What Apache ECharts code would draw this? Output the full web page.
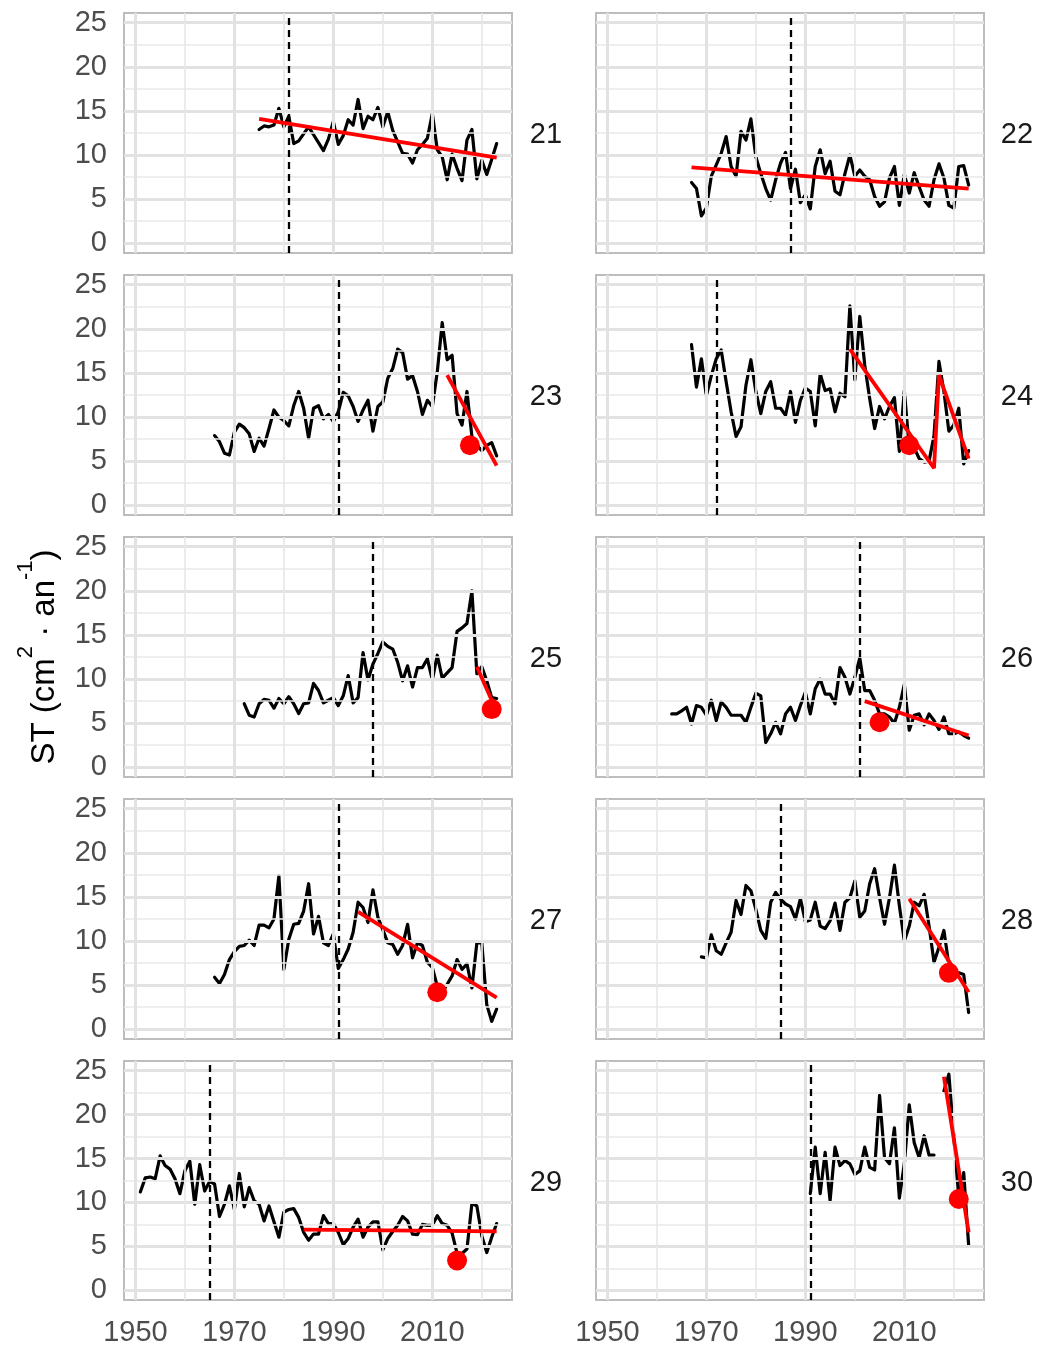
<!DOCTYPE html>
<html><head><meta charset="utf-8">
<script src="https://cdn.jsdelivr.net/npm/echarts@6/dist/echarts.min.js"></script>
<style>html,body{margin:0;padding:0;background:#fff}#c{width:1039px;height:1347px}</style>
</head><body><div id="c"></div>
<script>
// ---------- DATA ----------
const panelIds = [21, 22, 23, 24, 25, 26, 27, 28, 29, 30];
const startYears = [1975, 1967, 1966, 1967, 1972, 1963, 1966, 1969, 1951, 1991];
const breakYears = [1981, 1987, 1991, 1972, 1998, 2001, 1991, 1985, 1965, 1991];

const v21 = [12.9,13.3,13.2,13.4,15.3,13.2,14.4,11.3,11.6,12.4,13.2,12.3,11.4,10.5,11.8,13.8,11.2,12.2,14.0,13.4,16.3,13.0,14.4,14.0,15.4,13.2,14.9,12.8,11.5,10.2,10.1,9.1,10.6,11.2,11.9,14.7,10.6,9.8,7.2,10.1,8.5,7.1,11.7,12.9,7.3,9.4,7.8,9.5,11.3];
const v22 = [6.9,6.2,3.1,4.0,7.6,8.9,10.2,12.1,8.7,7.6,12.7,11.7,14.1,9.8,7.9,6.2,4.9,7.2,9.1,10.3,6.2,8.4,4.6,5.5,3.9,8.7,10.6,7.9,9.3,5.9,5.5,7.9,10.0,7.6,8.3,7.6,7.2,5.3,4.2,4.7,7.4,8.7,4.3,7.8,5.7,8.0,6.4,4.9,4.2,7.2,9.0,7.4,4.3,4.0,8.7,8.8,6.6];
const v23 = [7.9,7.2,5.9,5.7,8.3,9.2,8.8,8.1,6.1,7.6,6.7,8.7,10.8,10.0,9.6,9.0,11.3,12.9,11.0,7.6,11.0,11.3,9.8,10.3,9.5,10.6,12.8,12.4,11.2,9.5,10.8,11.9,8.4,11.2,11.7,14.4,15.5,17.7,17.3,14.3,14.7,12.9,10.3,11.9,11.2,15.1,20.7,16.5,17.0,10.4,9.1,12.9,7.8,6.8,6.2,6.8,7.1,5.6];
const v24 = [18.2,13.4,16.6,12.4,14.7,16.6,17.6,14.0,10.6,7.8,8.9,13.6,16.5,12.9,10.4,12.9,14.0,11.0,11.0,10.2,12.9,9.4,11.9,13.3,12.9,9.0,14.9,13.0,13.2,10.6,12.7,12.3,22.6,14.2,21.4,15.9,12.1,8.7,11.2,9.8,11.2,12.2,6.1,13.0,6.6,6.5,5.3,4.9,5.0,7.9,16.3,12.9,8.4,9.1,11.0,4.7,6.2];
const v25 = [7.2,5.9,5.7,7.2,7.7,7.6,6.7,7.8,7.2,8.0,7.2,6.1,7.2,7.3,9.5,8.7,7.3,7.6,7.9,7.0,8.1,10.4,7.3,7.9,13.0,9.9,11.7,12.9,14.2,13.7,13.4,11.9,9.8,11.5,9.1,11.3,11.3,12.3,9.9,12.7,10.1,10.7,11.3,15.4,15.8,16.3,20.0,10.6,11.4,9.8,7.9,7.8];
const v26 = [6.05,6.05,6.4,6.8,4.9,7.0,6.8,5.9,7.6,5.3,7.4,6.8,5.9,5.9,5.9,5.1,6.8,8.4,8.1,2.8,3.8,5.1,3.8,6.05,6.8,5.3,7.0,8.5,6.05,8.9,10.0,8.3,8.3,7.2,11.3,10.2,8.3,10.2,12.4,8.7,8.7,7.6,6.05,6.05,5.7,5.0,6.8,9.4,4.2,5.9,6.05,4.8,6.05,5.3,4.3,5.7,3.8,3.8,4.0,3.6,3.3];
const v27 = [5.9,5.2,6.2,7.9,8.8,9.4,9.5,10.1,9.5,11.8,11.8,11.5,12.5,17.4,6.8,10.2,11.9,12.0,13.4,16.5,10.8,12.8,9.8,9.5,10.8,6.9,7.9,9.1,11.0,14.4,13.8,12.1,15.8,12.7,11.3,9.8,9.6,8.5,9.5,11.9,8.1,9.8,9.5,7.6,7.0,4.9,4.2,5.1,6.05,7.9,6.8,7.4,4.7,9.8,9.8,2.8,0.9,2.3];
const v28 = [8.2,8.1,10.7,8.9,8.5,9.8,11.0,14.6,13.0,16.3,15.7,13.6,11.2,10.3,14.4,15.5,14.75,14.2,13.9,12.5,14.8,12.2,12.4,14.4,11.7,11.4,12.3,14.3,11.2,14.4,14.9,16.8,12.7,13.4,16.5,18.2,14.9,11.9,14.9,18.6,14.0,10.0,11.7,14.4,14.0,15.3,11.7,7.6,9.3,11.2,7.3,6.4,6.4,6.2,1.9];
const v29 = [11.2,12.8,12.9,12.7,15.3,14.2,13.8,12.7,11.0,13.6,14.7,9.8,14.3,11.3,12.4,12.1,8.4,9.8,11.9,9.2,13.3,9.5,11.7,10.2,9.8,7.9,9.6,7.8,6.05,8.9,9.2,9.3,8.3,6.6,5.7,6.4,6.4,8.5,7.6,7.6,6.6,5.2,5.9,7.2,8.1,6.05,7.2,7.8,7.8,4.6,5.9,6.7,7.4,8.4,7.9,6.4,6.35,7.5,7.4,7.4,8.5,7.6,7.4,6.5,4.2,4.2,4.7,9.9,9.6,6.2,4.3,6.05,7.6];
const v30 = [11.0,16.3,11.0,15.7,10.2,16.3,14.2,14.75,14.4,13.2,13.6,16.3,14.0,13.7,22.2,15.1,14.4,18.5,10.5,14.4,21.1,16.8,15.1,17.6,15.4,15.4,null,22.7,24.6,17.5,10.6,13.4,5.1];
const seriesValues = [v21, v22, v23, v24, v25, v26, v27, v28, v29, v30];

// red trend segments: [year, value]
const t21 = [[1975, 14.1], [2023, 9.7]];
const t22 = [[1967, 8.6], [2023, 6.2]];
const t23 = [[2013, 14.75], [2023, 4.5]];
const t24 = [[1999, 17.7], [2016, 4.2], [2017, 14.75], [2023, 5.3]];
const t25 = [[2019, 11.4], [2022, 7.6]];
const t26 = [[2002, 7.5], [2023, 3.6]];
const t27 = [[1995, 13.3], [2023, 3.6]];
const t28 = [[2011, 14.8], [2023, 4.2]];
const t29 = [[1984, 6.9], [2023, 6.7]];
const t30 = [[2018, 24.3], [2023, 6.6]];
const trendLines = [t21, t22, t23, t24, t25, t26, t27, t28, t29, t30];

// red dots: [year, value]
const dots = [null, null, [2017.6, 6.8], [2011, 6.8], [2022, 6.6], [2005, 5.1], [2011, 4.2], [2019, 6.4], [2015, 3.4], [2021, 10.4]];

const xTickLabels = [1950, 1970, 1990, 2010];
const xMajorGrid = [1950, 1970, 1990, 2010];
const xMinorGrid = [1960, 1980, 2000, 2020];
const yTickLabels = [0, 5, 10, 15, 20, 25];
const yMinorGrid = [2.5, 7.5, 12.5, 17.5, 22.5];

// ---------- CHART ----------
const FONT = '"Liberation Sans", Arial, sans-serif';
const X_MIN = 1947.7, X_MAX = 2026.1, Y_MIN = -1.1, Y_MAX = 26.1;
const grids = [], xAxes = [], yAxes = [], series = [], graphics = [];

panelIds.forEach((id, i) => {
  const col = i % 2, row = Math.floor(i / 2);
  const left = col === 0 ? 124 : 596;
  const top = 13 + 262 * row;
  const W = 388, H = 240;
  grids.push({ left: left, top: top, width: W, height: H, show: true,
    borderColor: '#bdbdbd', borderWidth: 2, backgroundColor: '#fff' });
  xAxes.push({ gridIndex: i, type: 'value', min: X_MIN, max: X_MAX,
    axisLine: { show: false }, axisTick: { show: false }, splitLine: { show: false },
    axisLabel: { show: row === 4, customValues: xTickLabels, fontSize: 29, color: '#4d4d4d',
      margin: 18, fontFamily: FONT, formatter: v => String(v) } });
  yAxes.push({ gridIndex: i, type: 'value', min: Y_MIN, max: Y_MAX,
    axisLine: { show: false }, axisTick: { show: false }, splitLine: { show: false },
    axisLabel: { show: col === 0, customValues: yTickLabels, fontSize: 29, color: '#4d4d4d',
      margin: 17, padding: [4, 0, 0, 0], fontFamily: FONT, formatter: v => String(v) } });

  const gridLines = [];
  yTickLabels.forEach(v => gridLines.push({ yAxis: v, lineStyle: { color: '#e2e2e2', width: 3, type: 'solid' } }));
  yMinorGrid.forEach(v => gridLines.push({ yAxis: v, lineStyle: { color: '#e8e8e8', width: 1.7, type: 'solid' } }));
  xMajorGrid.forEach(v => gridLines.push({ xAxis: v, lineStyle: { color: '#e2e2e2', width: 3, type: 'solid' } }));
  xMinorGrid.forEach(v => gridLines.push({ xAxis: v, lineStyle: { color: '#e8e8e8', width: 1.7, type: 'solid' } }));

  series.push({ type: 'line', xAxisIndex: i, yAxisIndex: i, data: [[X_MIN, Y_MIN]], showSymbol: false,
    silent: true, z: 1, lineStyle: { opacity: 0 },
    markLine: { symbol: ['none', 'none'], silent: true, animation: false, label: { show: false },
      emphasis: { disabled: true }, data: gridLines } });

  const vals = seriesValues[i];
  const data = vals.map((v, k) => [startYears[i] + k, v]);
  series.push({ type: 'line', xAxisIndex: i, yAxisIndex: i, data: data, showSymbol: false,
    connectNulls: false, z: 3, lineStyle: { color: '#000', width: 3.2, join: 'round', cap: 'round' }, silent: true,
    markLine: { symbol: ['none', 'none'], silent: true, animation: false, label: { show: false },
      emphasis: { disabled: true },
      data: [{ xAxis: breakYears[i], lineStyle: { color: '#000', width: 2.3, type: [7, 5] } }] } });

  series.push({ type: 'line', xAxisIndex: i, yAxisIndex: i, data: trendLines[i], showSymbol: false,
    z: 10, zlevel: 0, silent: true, lineStyle: { color: '#ff0000', width: 3.8 } });

  if (dots[i]) {
    series.push({ type: 'scatter', xAxisIndex: i, yAxisIndex: i, data: [dots[i]], symbolSize: 20,
      z: 11, silent: true, itemStyle: { color: '#ff0000', opacity: 1 } });
  }

  graphics.push({ type: 'text', x: col === 0 ? 546 : 1017, y: top + H / 2 + 2,
    style: { text: String(id), fontSize: 29, fill: '#1a1a1a', fontFamily: FONT,
      textAlign: 'center', textVerticalAlign: 'middle' } });
});

graphics.push({ type: 'text', x: 38, y: 657, rotation: Math.PI / 2,
  style: { text: '{a|ST (cm}{s|2}{a| · an}{s|-1}{a|)}', textAlign: 'center', textVerticalAlign: 'middle',
    fill: '#000', fontFamily: FONT,
    rich: { a: { fontSize: 33, fill: '#000', fontFamily: FONT, lineHeight: 46, verticalAlign: 'bottom' },
            s: { fontSize: 22, fill: '#000', fontFamily: FONT, lineHeight: 46, verticalAlign: 'top' } } } });

const chart = echarts.init(document.getElementById('c'), null, { renderer: 'canvas' });
chart.setOption({ animation: false, backgroundColor: '#fff', grid: grids, xAxis: xAxes, yAxis: yAxes,
  series: series, graphic: graphics });
</script></body></html>
